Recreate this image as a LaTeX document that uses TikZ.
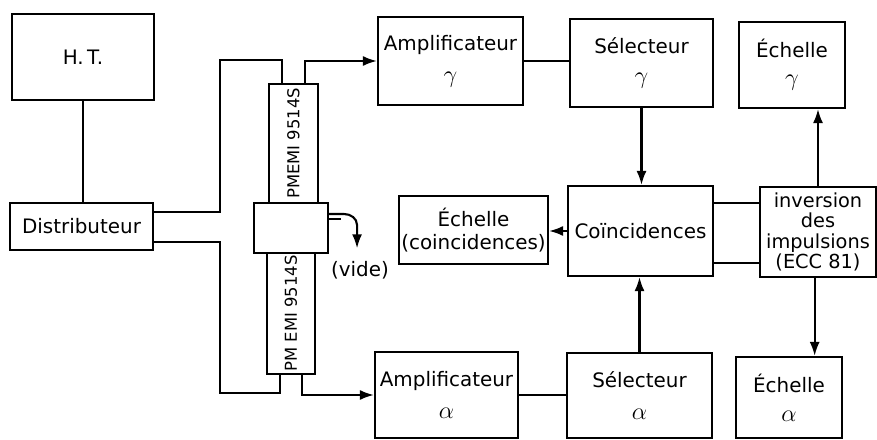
\documentclass[tikz,border=0pt]{standalone}
\usepackage{fontspec}
\setmainfont{DejaVu Sans}
\usepackage{graphicx}
\usetikzlibrary{arrows.meta}

\newcommand{\grk}[1]{{\fontsize{22}{22}\selectfont$#1$}}

\begin{document}
\begin{tikzpicture}[x=0.3mm, y=-0.3mm, line width=1.8pt,
  box/.style = {draw, inner sep=1pt, align=center, font=\fontsize{17}{20}\selectfont},
  wh/.style 2 args = {minimum width=#1*0.3mm, minimum height=#2*0.3mm},
  tubetext/.style = {font=\fontsize{14}{16}\selectfont},
  arr/.style = {-{Latex[length=4.2mm, width=3mm]}}]

\useasboundingbox (0,0) rectangle (877,440);

% Supply and distributor
\node[box, wh={142}{86}] (ht) at (83,57) {H.\,T.};
\node[box, wh={143}{47}] (dist) at (81.5,226.5) {Distributeur};

% Photomultipliers
\node[box, wh={49}{119}, tubetext] (tubeup) at (293.5,143.5) {\rotatebox{90}{PMEMI 9514S}};
\node[box, wh={74}{50}] (mid) at (291,228) {};
\node[box, wh={48}{121}, tubetext] (tubedn) at (291,313.5) {\rotatebox{90}{PM EMI 9514S}};
\node[box, draw=none, inner sep=0pt] (vide) at (360,270) {(vide)};

% Gamma channel
\node[box, wh={145}{88}] (ampg) at (450.5,61) {Amplificateur\\[7pt]\grk{\gamma}};
\node[box, wh={143}{88}] (selg) at (641.5,63) {Sélecteur\\[6pt]\grk{\gamma}};
\node[box, wh={106}{86}] (echg) at (792,65) {Échelle\\[4pt]\grk{\gamma}};

% Coincidences
\node[box, wh={149}{68}] (echc) at (473.5,230) {Échelle\\(coincidences)};
\node[box, wh={145}{90}] (coinc) at (640.5,231) {Coïncidences};
\node[box, wh={116}{90}, inner sep=0pt, font=\fontsize{16.5}{17.5}\selectfont] (inv) at (818,232)
  {inversion\\des\\impulsions\\(ECC 81)};

% Alpha channel
\node[box, wh={143}{86}] (ampa) at (446.5,395) {Amplificateur\\[8pt]\grk{\alpha}};
\node[box, wh={145}{85}] (sela) at (639.5,395.5) {Sélecteur\\[8pt]\grk{\alpha}};
\node[box, wh={106}{81}] (echa) at (789,397.5) {Échelle\\[5pt]\grk{\alpha}};

% Bends
\coordinate (bendup) at (220,60);
\coordinate (benddn) at (220,393);

% Connections
\draw (ht.south) -- (ht.south |- dist.north);
\draw ([yshift=4.35mm]dist.east) -| (bendup) -| ([xshift=-3.5mm]tubeup.north);
\draw ([yshift=-4.65mm]dist.east) -| (benddn) -| ([xshift=-3.3mm]tubedn.south);
\draw[arr] ([xshift=3.5mm]tubeup.north) |- (ampg.west);
\draw[arr] ([xshift=3.3mm]tubedn.south) |- (ampa.west);
\draw (ampg.east) -- (ampg.east -| selg.west);
\draw (ampa.east) -- (ampa.east -| sela.west);
\draw[arr] (selg.south) -- (selg.south |- coinc.north);
\draw[arr] (sela.north) -- (sela.north |- coinc.south);
\draw[arr] (coinc.west) -- (coinc.west -| echc.east);
\draw ([yshift=8.4mm]coinc.east) -- ([yshift=8.4mm]coinc.east -| inv.west);
\draw ([yshift=-9.6mm]coinc.east) -- ([yshift=-9.6mm]coinc.east -| inv.west);
\draw[arr] (inv.north) -- (inv.north |- echg.south);
\draw[arr] ([xshift=-1mm]inv.south) -- ([xshift=-1mm]inv.south |- echa.north);

% Vacuum outlet
\draw ([yshift=2.7mm]mid.east) -- ++(3.6mm,0);
\draw[arr] ([yshift=4.2mm]mid.east) -- ++(4.5mm,0) to[out=0, in=90] ++(3.9mm,-3.3mm) -- ++(0,-7mm);

\end{tikzpicture}
\end{document}
